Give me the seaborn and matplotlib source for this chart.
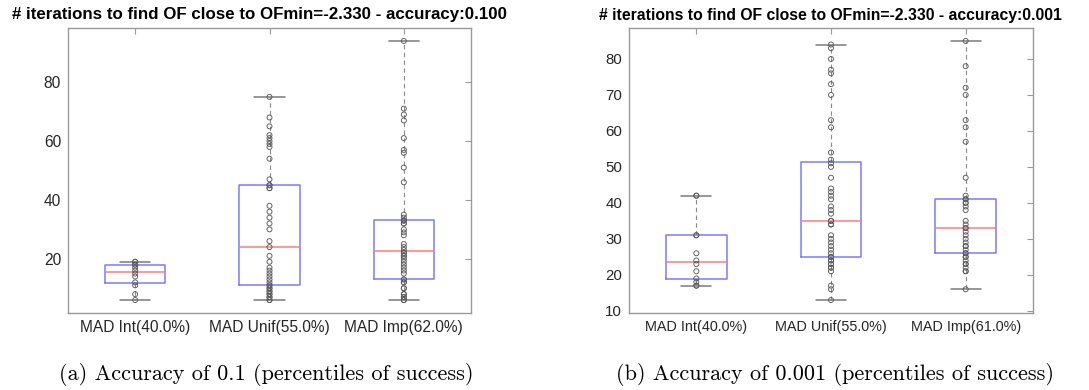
import numpy as np
import pandas as pd
import matplotlib
matplotlib.use("Agg")
import matplotlib.pyplot as plt
import seaborn as sns

# Iterations needed to reach OFmin within the given accuracy (successful runs only)
acc01_labels = ["MAD Int(40.0%)", "MAD Unif(55.0%)", "MAD Imp(62.0%)"]
acc01_int = [6, 8, 11, 12, 14, 15, 16, 17, 18, 18, 19, 19]
acc01_unif = [6, 6, 7, 7, 8, 8, 9, 9, 10, 10, 11,
              11, 12, 13, 14, 15, 16, 17, 19, 21, 24,
              26, 30, 32, 34, 36, 38, 44, 44, 45, 45,
              47, 54, 58, 59, 60, 61, 62, 65, 68, 75]
acc01_imp = [6, 6, 7, 7, 8, 8, 10, 10, 12, 12, 13,
             13, 15, 16, 17, 18, 19, 20, 21, 21, 22, 22,
             23, 24, 25, 28, 29, 30, 32, 32, 33, 33, 33,
             34, 35, 46, 51, 56, 57, 61, 67, 69, 71, 94]

acc0001_labels = ["MAD Int(40.0%)", "MAD Unif(55.0%)", "MAD Imp(61.0%)"]
acc0001_int = [17, 17, 18, 19, 21, 23, 24, 26, 31, 31, 42, 42]
acc0001_unif = [13, 16, 17, 21, 22, 22, 23, 23, 24, 24, 25, 25,
                26, 27, 28, 29, 30, 31, 34, 34, 35, 35,
                37, 38, 39, 41, 42, 43, 44, 47, 50, 51, 52,
                54, 61, 63, 70, 73, 76, 77, 80, 83, 84]
acc0001_imp = [16, 21, 21, 22, 23, 23, 24, 25, 25, 26,
               26, 27, 28, 28, 29, 30, 31, 32, 33,
               33, 34, 35, 38, 39, 40, 40, 41, 41,
               42, 47, 57, 61, 63, 70, 72, 78, 85]

titles = ["# iterations to find OF close to OFmin=-2.330 - accuracy:0.100",
          "# iterations to find OF close to OFmin=-2.330 - accuracy:0.001"]
captions = ["(a) Accuracy of 0.1 (percentiles of success)",
            "(b) Accuracy of 0.001 (percentiles of success)"]

sns.set_theme(style="white")
plt.rcParams["font.family"] = ["Liberation Sans", "DejaVu Sans"]

BOX_C = "#7a7aff"
MED_C = "#ff7c7c"
WHISK_C = "#8a8a8a"
CAP_C = "#7a7a7a"
PT_C = "#5a5a5a"
FRAME_C = "#9a9a9a"


def long_frame(labels, series):
    rows = []
    for lab, vals in zip(labels, series):
        for v in vals:
            rows.append((lab, v))
    return pd.DataFrame(rows, columns=["method", "iterations"])


def draw_panel(ax, labels, series, yticks, xlabelsize, ylabelsize):
    df = long_frame(labels, series)
    sns.boxplot(data=df, x="method", y="iterations", order=labels, ax=ax,
                fill=False, width=0.45, whis=(0, 100), showfliers=False,
                color=BOX_C, linewidth=1.0,
                boxprops=dict(color=BOX_C, linewidth=1.1),
                medianprops=dict(color=MED_C, linewidth=1.1),
                whiskerprops=dict(color=WHISK_C, linestyle=(0, (4, 3)), linewidth=0.8),
                capprops=dict(color=CAP_C, linewidth=1.1))
    n_before = len(ax.collections)
    sns.stripplot(data=df, x="method", y="iterations", order=labels, ax=ax,
                  jitter=False, size=3.6, color=PT_C, linewidth=0.7, zorder=5)
    for coll in ax.collections[n_before:]:
        coll.set_facecolor("none")
        coll.set_edgecolor(PT_C)
        coll.set_linewidth(0.65)
    allv = np.concatenate([np.asarray(s, float) for s in series])
    lo, hi = allv.min(), allv.max()
    pad = 0.05 * (hi - lo)
    ax.set_ylim(lo - pad, hi + pad)
    ax.set_xlim(-0.5, len(labels) - 0.5)
    ax.set_yticks(yticks)
    ax.set_xlabel("")
    ax.set_ylabel("")
    ax.tick_params(direction="in", top=True, right=True, length=4, width=0.8,
                   color=FRAME_C, labelcolor="#262626", pad=5)
    ax.tick_params(axis="x", labelsize=xlabelsize)
    ax.tick_params(axis="y", labelsize=ylabelsize)
    for sp in ax.spines.values():
        sp.set_color(FRAME_C)
        sp.set_linewidth(1.0)


fig = plt.figure(figsize=(10.89, 3.9), dpi=100)
W, H = 1089.0, 390.0
ax1 = fig.add_axes([68 / W, 1 - 313 / H, 403 / W, 285 / H])
ax2 = fig.add_axes([629 / W, 1 - 313 / H, 404 / W, 285 / H])

draw_panel(ax1, acc01_labels, [acc01_int, acc01_unif, acc01_imp], [20, 40, 60, 80],
           11.2, 11.2)
draw_panel(ax2, acc0001_labels, [acc0001_int, acc0001_unif, acc0001_imp],
           [10, 20, 30, 40, 50, 60, 70, 80], 10.4, 10.8)

fig.text(259.5 / W, 1 - 15 / H, titles[0], ha="center", va="center",
         fontsize=12.2, fontweight="bold", color="black")
fig.text(830 / W, 1 - 15.5 / H, titles[1], ha="center", va="center",
         fontsize=11.3, fontweight="bold", color="black")

fig.text(266 / W, 1 - 375 / H, captions[0], ha="center", va="center",
         fontsize=16, family="cmr10", color="black")
fig.text(835 / W, 1 - 375 / H, captions[1], ha="center", va="center",
         fontsize=16, family="cmr10", color="black")

fig.savefig("out.png", dpi=100, facecolor="white")
